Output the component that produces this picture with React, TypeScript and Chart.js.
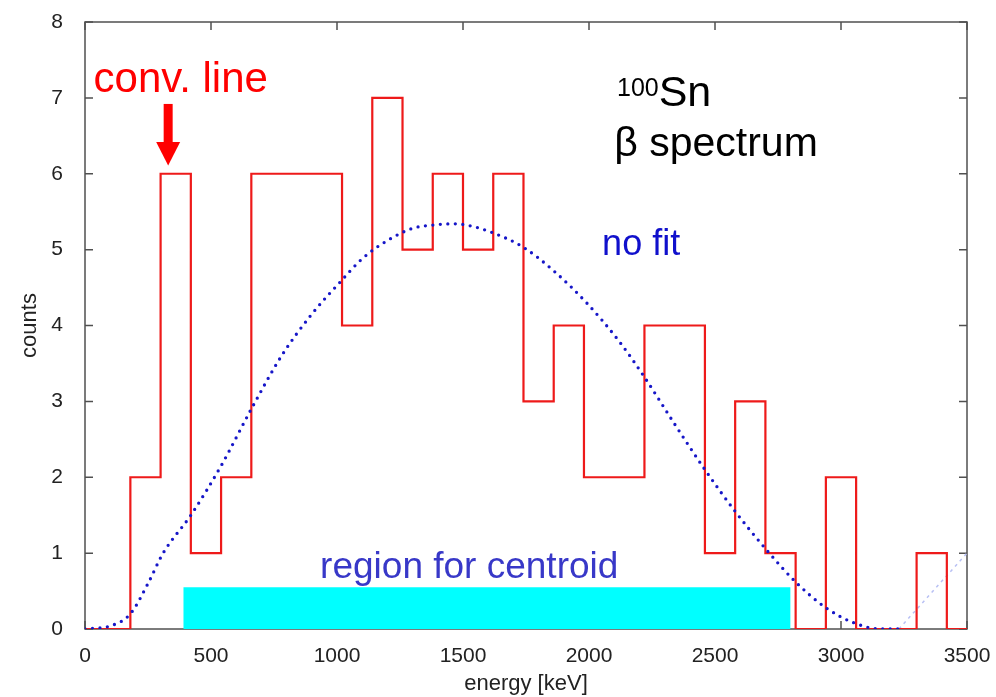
import React, { useEffect, useRef } from "react";
import { Chart, registerables } from "chart.js";

Chart.register(...registerables);

// ---- data ----
const binStarts = [0, 180, 300, 420, 540, 660, 780, 900, 1020, 1140, 1260, 1380, 1500, 1620, 1740, 1860, 1980, 2100, 2220, 2340, 2460, 2580, 2700, 2820, 2940, 3060, 3180, 3300, 3420];
const counts = [0, 2, 6, 1, 2, 6, 6, 6, 4, 7, 5, 6, 5, 6, 3, 4, 2, 2, 4, 4, 1, 3, 1, 0, 2, 0, 0, 1, 0];
const histEnd = 3500;

const fitEnergies = [0, 100, 180, 250, 310, 420, 540, 660, 780, 900, 1020, 1100, 1200, 1300, 1400, 1460, 1520, 1620, 1740, 1860, 1990, 2120, 2220, 2340, 2460, 2580, 2700, 2820, 2940, 3060, 3160, 3230];
const fitValues = [0, 0.04, 0.2, 0.6, 1.0, 1.5, 2.15, 2.9, 3.6, 4.15, 4.6, 4.88, 5.12, 5.28, 5.33, 5.34, 5.32, 5.22, 5.03, 4.72, 4.3, 3.79, 3.32, 2.7, 2.1, 1.55, 1.06, 0.62, 0.28, 0.07, 0.0, 0.0];

const tailEnergies = [3230, 3500];
const tailValues = [0, 1.0];

const centroidEnergies = [390, 2800];
const centroidValues = [0.55, 0.55];

const xTickValues = [0, 500, 1000, 1500, 2000, 2500, 3000, 3500];
const yTickValues = [0, 1, 2, 3, 4, 5, 6, 7, 8];

const xTitle = "energy [keV]";
const yTitle = "counts";

// ---- annotations (data coordinates) ----
const FONT = '"Liberation Sans", Arial, Helvetica, sans-serif';
const textNotes = [
  { text: "conv. line", x: 34, y: 7.08, size: 42, color: "#ff0000" },
  { text: "β spectrum", x: 2100, y: 6.24, size: 41, color: "#000000" },
  { text: "no fit", x: 2052, y: 4.93, size: 36, color: "#1010cc" },
  { text: "region for centroid", x: 933, y: 0.67, size: 37, color: "#3838c8" },
];
const isotope = { mass: "100", symbol: "Sn", x: 2111, y: 7.03, symY: 6.89, massSize: 25, symSize: 43 };
const arrow = { x: 330, yTop: 6.92, yHeadBase: 6.42, yTip: 6.11, shaft: 9, headHalf: 12, color: "#ff0000" };

const framePlugin = {
  id: "frame",
  beforeDatasetsDraw(chart: any) {
    const { ctx, chartArea } = chart;
    const { left, right, top, bottom } = chartArea;
    const xs = chart.scales.x;
    const ys = chart.scales.y;
    ctx.save();
    ctx.strokeStyle = "#505050";
    ctx.lineWidth = 1.5;
    ctx.strokeRect(left, top, right - left, bottom - top);
    ctx.beginPath();
    const tl = 8;
    yTickValues.forEach((v) => {
      const py = ys.getPixelForValue(v);
      ctx.moveTo(left, py);
      ctx.lineTo(left + tl, py);
      ctx.moveTo(right, py);
      ctx.lineTo(right - tl, py);
    });
    xTickValues.forEach((v) => {
      const px = xs.getPixelForValue(v);
      ctx.moveTo(px, bottom);
      ctx.lineTo(px, bottom - tl);
      ctx.moveTo(px, top);
      ctx.lineTo(px, top + tl);
    });
    ctx.stroke();
    ctx.restore();
  },
};

const notesPlugin = {
  id: "notes",
  afterDatasetsDraw(chart: any) {
    const { ctx } = chart;
    const xs = chart.scales.x;
    const ys = chart.scales.y;
    ctx.save();
    ctx.textBaseline = "alphabetic";
    ctx.textAlign = "left";
    textNotes.forEach((n) => {
      ctx.font = `${n.size}px ${FONT}`;
      ctx.fillStyle = n.color;
      ctx.fillText(n.text, xs.getPixelForValue(n.x), ys.getPixelForValue(n.y));
    });
    // isotope label with superscript mass number
    ctx.fillStyle = "#000000";
    ctx.font = `${isotope.massSize}px ${FONT}`;
    const mx = xs.getPixelForValue(isotope.x);
    ctx.fillText(isotope.mass, mx, ys.getPixelForValue(isotope.y));
    const mw = ctx.measureText(isotope.mass).width;
    ctx.font = `${isotope.symSize}px ${FONT}`;
    ctx.fillText(isotope.symbol, mx + mw, ys.getPixelForValue(isotope.symY));
    // arrow
    const ax = xs.getPixelForValue(arrow.x);
    const yTop = ys.getPixelForValue(arrow.yTop);
    const yBase = ys.getPixelForValue(arrow.yHeadBase);
    const yTip = ys.getPixelForValue(arrow.yTip);
    ctx.fillStyle = arrow.color;
    ctx.fillRect(ax - arrow.shaft / 2, yTop, arrow.shaft, yBase - yTop + 1);
    ctx.beginPath();
    ctx.moveTo(ax - arrow.headHalf, yBase);
    ctx.lineTo(ax + arrow.headHalf, yBase);
    ctx.lineTo(ax, yTip);
    ctx.closePath();
    ctx.fill();
    ctx.restore();
  },
};

export default function App() {
  const ref = useRef<HTMLCanvasElement | null>(null);

  useEffect(() => {
    if (!ref.current) return;
    const histPoints = binStarts.map((x, i) => ({ x, y: counts[i] }));
    histPoints.push({ x: histEnd, y: counts[counts.length - 1] });
    const fitPoints = fitEnergies.map((x, i) => ({ x, y: fitValues[i] }));
    const tailPoints = tailEnergies.map((x, i) => ({ x, y: tailValues[i] }));
    const centroidPoints = centroidEnergies.map((x, i) => ({ x, y: centroidValues[i] }));

    const chart = new Chart(ref.current, {
      type: "line",
      data: {
        datasets: [
          {
            label: "region for centroid",
            data: centroidPoints,
            borderWidth: 0,
            borderColor: "rgba(0,0,0,0)",
            backgroundColor: "#00ffff",
            fill: "origin",
            pointRadius: 0,
            order: 10,
          },
          {
            label: "tail",
            data: tailPoints,
            borderColor: "#b8c0f4",
            borderWidth: 1.5,
            borderDash: [3, 4],
            pointRadius: 0,
            fill: false,
            order: 5,
          },
          {
            label: "counts",
            data: histPoints,
            stepped: true,
            borderColor: "#ee1a1a",
            borderWidth: 2.2,
            pointRadius: 0,
            fill: false,
            order: 2,
          },
          {
            label: "no fit",
            data: fitPoints,
            borderColor: "#1616c8",
            borderWidth: 3.3,
            borderDash: [0, 7.5],
            borderCapStyle: "round",
            cubicInterpolationMode: "monotone",
            pointRadius: 0,
            fill: false,
            order: 1,
          },
        ],
      },
      options: {
        responsive: false,
        animation: false,
        devicePixelRatio: 1,
        layout: { padding: { top: 22, right: 29, left: 0, bottom: 0 } },
        plugins: { legend: { display: false }, tooltip: { enabled: false } },
        scales: {
          x: {
            type: "linear",
            min: 0,
            max: 3500,
            afterBuildTicks: (s: any) => {
              s.ticks = xTickValues.map((v) => ({ value: v }));
            },
            ticks: { color: "#222", font: { size: 21, family: FONT }, padding: 7, maxRotation: 0, callback: (v: any) => String(v) },
            grid: { display: false },
            border: { display: false },
            title: { display: true, text: xTitle, color: "#222", font: { size: 22, family: FONT }, padding: { top: 0, bottom: 0 } },
            afterFit: (s: any) => {
              s.height = 68;
              s.paddingLeft = 0;
              s.paddingRight = 0;
            },
          },
          y: {
            type: "linear",
            min: 0,
            max: 8,
            afterBuildTicks: (s: any) => {
              s.ticks = yTickValues.map((v) => ({ value: v }));
            },
            ticks: { color: "#222", font: { size: 21, family: FONT }, padding: 14, callback: (v: any) => String(v) },
            grid: { display: false },
            border: { display: false },
            title: { display: true, text: yTitle, color: "#222", font: { size: 22, family: FONT }, padding: { top: 17, bottom: 0 } },
            afterFit: (s: any) => {
              s.width = 85;
              s.paddingTop = 0;
              s.paddingBottom = 0;
            },
          },
        },
      },
      plugins: [framePlugin, notesPlugin],
    } as any);
    return () => chart.destroy();
  }, []);

  return (
    <div style={{ position: "fixed", left: 0, top: 0, width: 996, height: 697, background: "#fff" }}>
      <canvas ref={ref} width={996} height={697} style={{ display: "block" }} />
    </div>
  );
}
